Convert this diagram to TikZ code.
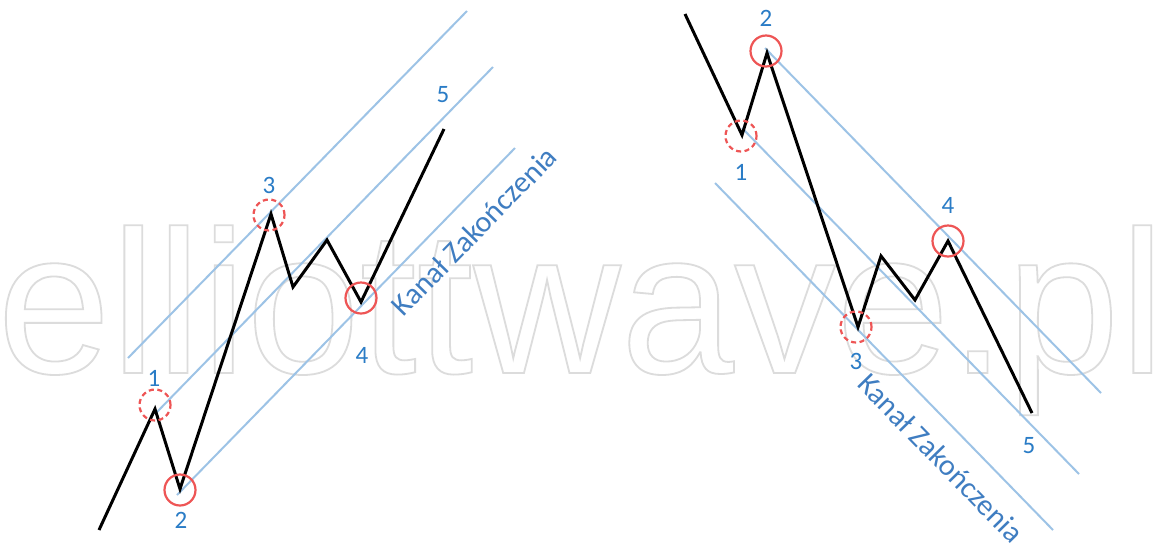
\documentclass[tikz,border=0pt]{standalone}
\usepackage{fontspec}
\setmainfont{Carlito}
\newfontfamily\markfont{Liberation Sans}
\definecolor{ink}{HTML}{000000}
\definecolor{chan}{HTML}{9DC3E6}
\definecolor{ring}{HTML}{EE5555}
\definecolor{num}{HTML}{2A7CC6}
\definecolor{cap}{HTML}{3F7DC1}
\definecolor{mark}{HTML}{DCDCDC}
% outlined (stroked) text for the watermark
\newcommand{\outlined}[1]{\special{pdf:literal direct 1 Tr 1.8 w}#1\special{pdf:literal direct 0 Tr 0.4 w}}
\tikzset{
  wave/.style={ink, line width=3pt, line join=miter},
  chanline/.style={chan, line width=2pt},
  hit/.style={circle, draw=ring, line width=2.2pt, minimum size=31pt, inner sep=0pt},
  miss/.style={hit, dash pattern=on 5pt off 3.5pt},
  wavenum/.style={font=\fontsize{25}{30}\selectfont, text=num, inner sep=0pt},
  chantext/.style={font=\fontsize{30}{36}\selectfont, text=cap, inner sep=0pt},
}

\begin{document}
\begin{tikzpicture}[x=1pt, y=-1pt]
\useasboundingbox[fill=white] (0,0) rectangle (1157,550);

% ---------- watermark (behind everything)
\node[anchor=base west, inner sep=0pt, text=mark, font=\markfont\fontsize{204}{240}\selectfont] (mark) at (-3,373)
  {\outlined{elliottwave.pl}};

% ---------- rising five (left)
\foreach \n/\x/\y in {0/99/530, 1/155/409, 2/180/489, 3/271/214, 4/293/287, 5/327/240, 6/361/302, 7/444/129}
  \coordinate (L\n) at (\x,\y);
\coordinate (LupA) at (128,358);  \coordinate (LupB) at (467,11);
\coordinate (LmidA) at (156,413); \coordinate (LmidB) at (493,67);
\coordinate (LlowA) at (177,495); \coordinate (LlowB) at (515,148);

\draw[chanline] (LupA) -- (LupB);
\draw[chanline] (LmidA) -- (LmidB);
\draw[chanline] (LlowA) -- (LlowB);
\draw[wave] (L0) -- (L1) -- (L2) -- (L3) -- (L4) -- (L5) -- (L6) -- (L7);

\node[miss] (ringL1) at (155,405) {};
\node[hit]  (ringL2) at (180,490) {};
\node[miss] (ringL3) at (269,215) {};
\node[hit]  (ringL4) at (361,298) {};

\node[wavenum] (numL1) at (154,378) {1};
\node[wavenum] (numL2) at (181,520) {2};
\node[wavenum] (numL3) at (269,185) {3};
\node[wavenum] (numL4) at (362,355) {4};
\node[wavenum] (numL5) at (443,95) {5};
\node[chantext, rotate=45.7] (capL) at (474,231) {Kanał Zakończenia};

% ---------- falling five (right)
\foreach \n/\x/\y in {0/685/14, 1/742/135, 2/767/53, 3/858/327, 4/881/256, 5/915/300, 6/948/241, 7/1032/413}
  \coordinate (R\n) at (\x,\y);
\coordinate (RupA) at (765,48);   \coordinate (RupB) at (1101,393);
\coordinate (RmidA) at (742,128); \coordinate (RmidB) at (1079,474);
\coordinate (RlowA) at (715,183); \coordinate (RlowB) at (1053,530);

\draw[chanline] (RupA) -- (RupB);
\draw[chanline] (RmidA) -- (RmidB);
\draw[chanline] (RlowA) -- (RlowB);
\draw[wave] (R0) -- (R1) -- (R2) -- (R3) -- (R4) -- (R5) -- (R6) -- (R7);

\node[miss] (ringR1) at (741,136) {};
\node[hit]  (ringR2) at (766,51) {};
\node[miss] (ringR3) at (856,327) {};
\node[hit]  (ringR4) at (948,241) {};

\node[wavenum] (numR1) at (741,172) {1};
\node[wavenum] (numR2) at (766,18) {2};
\node[wavenum] (numR3) at (856,361) {3};
\node[wavenum] (numR4) at (948,205) {4};
\node[wavenum] (numR5) at (1029,446) {5};
\node[chantext, rotate=-45.7] (capR) at (941,458) {Kanał Zakończenia};

\end{tikzpicture}
\end{document}
